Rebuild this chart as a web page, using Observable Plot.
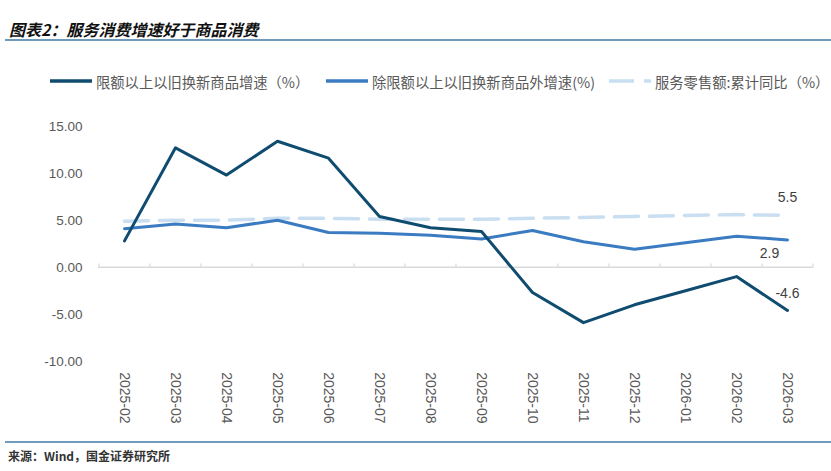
<!DOCTYPE html>
<html>
<head>
<meta charset="utf-8">
<script src="https://cdn.jsdelivr.net/npm/d3@7"></script>
<script src="https://cdn.jsdelivr.net/npm/@observablehq/plot@0.6"></script>
<style>
  html, body { margin: 0; padding: 0; background: #fff; }
  #wrap { position: relative; width: 831px; height: 471px; overflow: hidden; font-family: "Noto Sans CJK SC", "Liberation Sans", sans-serif; }
  #chart { position: absolute; left: 0; top: 0; }
  .title { position: absolute; left: 9px; top: 17px; font-size: 16px; font-weight: bold; font-style: italic; color: #111; white-space: nowrap; }
  .rule { position: absolute; left: 5px; right: 0; height: 2px; background: #6f9bbd; }
  .legend { position: absolute; top: 70px; left: 0; height: 22px; width: 831px; font-size: 14.3px; color: #595959; }
  .item { position: absolute; top: 0; display: flex; align-items: center; white-space: nowrap; height: 22px; width: max-content; }
  .item svg { margin-right: 4px; }
  .caption { position: absolute; left: 8px; top: 447px; font-size: 12px; color: #333; white-space: nowrap; font-weight: bold; }
</style>
</head>
<body>
<div id="wrap">
  <div class="title">图表2：服务消费增速好于商品消费</div>
  <div class="rule" style="top:39px"></div>
  <div class="legend" id="legend"></div>
  <div id="chart"></div>
  <div class="rule" style="top:441px; height:1.5px"></div>
  <div class="caption">来源：Wind，国金证券研究所</div>
</div>
<script>
// ---- data ----
const months = ["2025-02","2025-03","2025-04","2025-05","2025-06","2025-07","2025-08","2025-09","2025-10","2025-11","2025-12","2026-01","2026-02","2026-03"];
const tradeInGoods = [2.8, 12.7, 9.8, 13.4, 11.6, 5.4, 4.2, 3.8, -2.7, -5.9, -4.0, -2.5, -1.0, -4.6];
const excludingTradeIn = [4.1, 4.6, 4.2, 5.0, 3.7, 3.6, 3.4, 3.0, 3.9, 2.7, 1.9, 2.6, 3.3, 2.9];
const servicesRetail = [4.9, 5.0, 5.0, 5.2, 5.2, 5.1, 5.1, 5.1, 5.2, 5.3, 5.4, 5.5, 5.6, 5.5];
const seriesNames = ["限额以上以旧换新商品增速（%）", "除限额以上以旧换新商品外增速(%)", "服务零售额:累计同比（%）"];
const yTicks = [-10, -5, 0, 5, 10, 15];

// ---- styles ----
const colors = ["#0f4c70", "#3b7bc1", "#c9dff1"];
const W = 831, H = 471, ML = 98, MR = 18, MT = 125.7, MB = 110.3;
const step = (W - ML - MR) / months.length;

const rows = s => months.map((m, i) => ({month: m, v: s[i]}));
const dark = rows(tradeInGoods), mid = rows(excludingTradeIn), light = rows(servicesRetail);
const last = months.length - 1;

const chart = Plot.plot({
  width: W, height: H,
  marginLeft: ML, marginRight: MR, marginTop: MT, marginBottom: MB,
  style: {fontFamily: "'Liberation Sans', Arial, sans-serif", background: "transparent"},
  x: {type: "point", domain: months, padding: 0.5, label: null},
  y: {domain: [-10, 15], label: null},
  marks: [
    Plot.axisY({ticks: yTicks, tickFormat: d => d.toFixed(2), tickSize: 0, tickPadding: 16, fontSize: 13.5, color: "#595959"}),
    Plot.axisX({tickRotate: 90, tickSize: 0, tickPadding: 11, fontSize: 14, color: "#595959"}),
    Plot.ruleY([0], {stroke: "#d9d9d9", strokeWidth: 1.5}),
    Plot.ruleX(months, {x: d => d, y1: 0, y2: 0.35, dx: -step / 2, stroke: "#d9d9d9", strokeWidth: 1.2}),
    Plot.ruleX([months[last]], {x: d => d, y1: 0, y2: 0.35, dx: step / 2, stroke: "#d9d9d9", strokeWidth: 1.2}),
    Plot.line(light, {x: "month", y: "v", stroke: colors[2], strokeWidth: 3.5, strokeDasharray: "24,11"}),
    Plot.line(mid, {x: "month", y: "v", stroke: colors[1], strokeWidth: 3}),
    Plot.line(dark, {x: "month", y: "v", stroke: colors[0], strokeWidth: 3}),
    Plot.text([light[last]], {x: "month", y: "v", text: d => d.v.toFixed(1), dy: -18, fontSize: 14, fill: "#404040"}),
    Plot.text([mid[last]], {x: "month", y: "v", text: d => d.v.toFixed(1), dx: -18, dy: 14, fontSize: 14, fill: "#404040"}),
    Plot.text([dark[last]], {x: "month", y: "v", text: d => d.v.toFixed(1), dy: -17, fontSize: 14, fill: "#404040"})
  ]
});
document.getElementById("chart").appendChild(chart);

// ---- legend ----
const legend = document.getElementById("legend");
const lefts = [50, 326, 609];
seriesNames.forEach((name, i) => {
  const it = document.createElement("div");
  it.className = "item";
  it.style.left = lefts[i] + "px";
  const sw = i === 2
    ? `<svg width="42" height="6"><line x1="0" y1="3" x2="42" y2="3" stroke="${colors[i]}" stroke-width="3.5" stroke-dasharray="25,10"/></svg>`
    : `<svg width="42" height="6"><line x1="0" y1="3" x2="42" y2="3" stroke="${colors[i]}" stroke-width="3.5"/></svg>`;
  it.innerHTML = sw + `<span>${name}</span>`;
  legend.appendChild(it);
});
</script>
</body>
</html>
